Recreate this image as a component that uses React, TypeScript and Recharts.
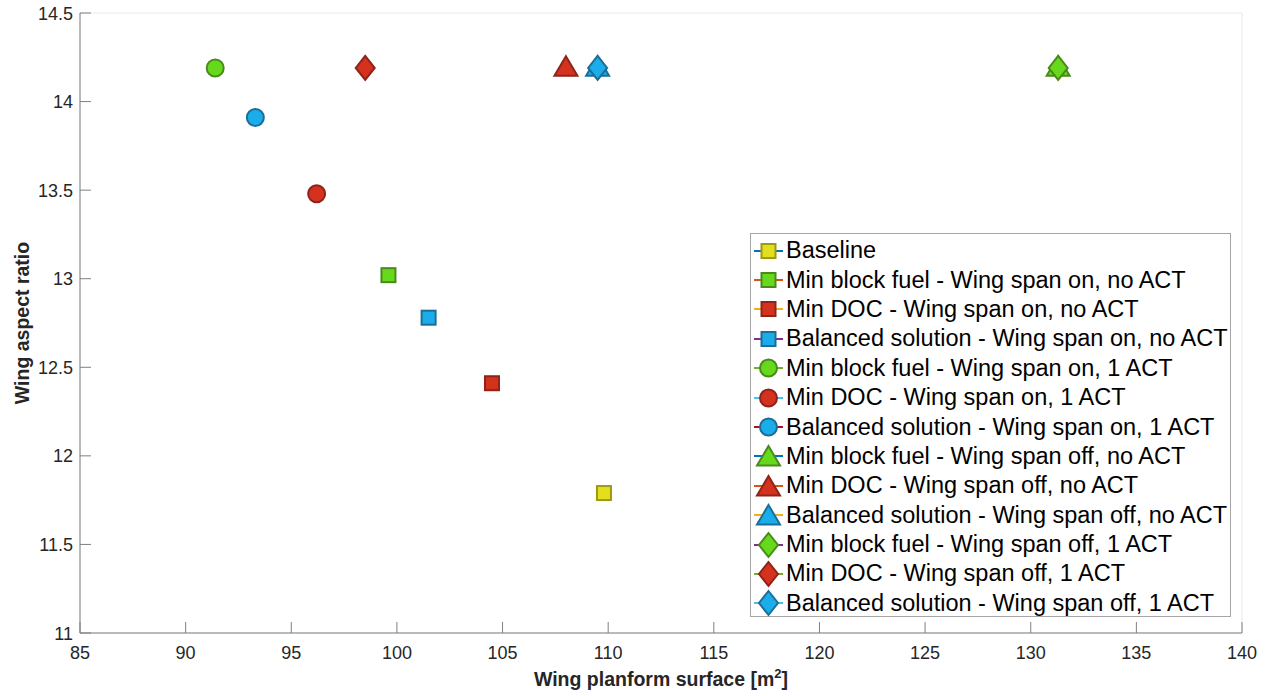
import { CartesianGrid, Label, Scatter, ScatterChart, XAxis, YAxis } from "recharts";

const seriesNames = [
  "Baseline",
  "Min block fuel - Wing span on, no ACT",
  "Min DOC - Wing span on, no ACT",
  "Balanced solution - Wing span on, no ACT",
  "Min block fuel - Wing span on, 1 ACT",
  "Min DOC - Wing span on, 1 ACT",
  "Balanced solution - Wing span on, 1 ACT",
  "Min block fuel - Wing span off, no ACT",
  "Min DOC - Wing span off, no ACT",
  "Balanced solution - Wing span off, no ACT",
  "Min block fuel - Wing span off, 1 ACT",
  "Min DOC - Wing span off, 1 ACT",
  "Balanced solution - Wing span off, 1 ACT",
];

// wing planform surface [m2]
const surfaceValues = [109.8, 99.6, 104.5, 101.5, 91.4, 96.2, 93.3, 131.3, 108.0, 109.5, 131.3, 98.5, 109.5];
// wing aspect ratio
const aspectValues = [11.79, 13.02, 12.41, 12.78, 14.19, 13.48, 13.91, 14.2, 14.2, 14.2, 14.19, 14.19, 14.19];

const markerKinds = [
  "square", "square", "square", "square",
  "circle", "circle", "circle",
  "triangle", "triangle", "triangle",
  "diamond", "diamond", "diamond",
];

const faceColors = [
  "#e3df1f", "#67d91c", "#d5311f", "#1badea",
  "#67d91c", "#d5311f", "#1badea",
  "#67d91c", "#d5311f", "#1badea",
  "#67d91c", "#d5311f", "#1badea",
];

const edgeColors = [
  "#9c9a12", "#4a8a1d", "#8e2418", "#1c6e96",
  "#4a8a1d", "#8e2418", "#1c6e96",
  "#4a8a1d", "#8e2418", "#1c6e96",
  "#4a8a1d", "#8e2418", "#1c6e96",
];

// legend line colours (matlab default colour order)
const lineColors = [
  "#0072BD", "#D95319", "#EDB120", "#7E2F8E", "#77AC30", "#4DBEEE", "#A2142F",
  "#0072BD", "#D95319", "#EDB120", "#7E2F8E", "#77AC30", "#4DBEEE",
];

const xTicks = [85, 90, 95, 100, 105, 110, 115, 120, 125, 130, 135, 140];
const yTicks = [11, 11.5, 12, 12.5, 13, 13.5, 14, 14.5];

const FONT = "'Liberation Sans', Arial, Helvetica, sans-serif";
const AXIS = "#808080";
const TEXT = "#262626";

function Marker({ kind, cx, cy, face, edge }: any) {
  if (cx == null || cy == null) return null;
  if (kind === "square") {
    return <rect x={cx - 7} y={cy - 7} width={14} height={14} fill={face} stroke={edge} strokeWidth={2} />;
  }
  if (kind === "circle") {
    return <circle cx={cx} cy={cy} r={8.5} fill={face} stroke={edge} strokeWidth={2} />;
  }
  if (kind === "triangle") {
    const pts = `${cx},${cy - 10} ${cx + 11.5},${cy + 9.5} ${cx - 11.5},${cy + 9.5}`;
    return <polygon points={pts} fill={face} stroke={edge} strokeWidth={2} strokeLinejoin="miter" />;
  }
  const pts = `${cx},${cy - 12} ${cx + 9.5},${cy} ${cx},${cy + 12} ${cx - 9.5},${cy}`;
  return <polygon points={pts} fill={face} stroke={edge} strokeWidth={2} />;
}

function BottomTick({ x, y, payload }: any) {
  return (
    <g>
      <line x1={x} y1={y} x2={x} y2={y - 11} stroke={AXIS} strokeWidth={1} />
      <text x={x} y={y + 26} textAnchor="middle" fill={TEXT} fontSize={18} fontFamily={FONT}>
        {payload.value}
      </text>
    </g>
  );
}

function TopTick({ x, y }: any) {
  return <line x1={x} y1={y} x2={x} y2={y + 11} stroke="#9a9a9a" strokeWidth={1} />;
}

function LeftTick({ x, y, payload }: any) {
  return (
    <g>
      <line x1={x} y1={y} x2={x + 11} y2={y} stroke={AXIS} strokeWidth={1} />
      <text x={x - 7} y={y + 6.5} textAnchor="end" fill={TEXT} fontSize={18} fontFamily={FONT}>
        {payload.value}
      </text>
    </g>
  );
}

function RightTick({ x, y }: any) {
  return <line x1={x} y1={y} x2={x - 11} y2={y} stroke="#6a6a6a" strokeWidth={1} />;
}

function XTitle({ viewBox }: any) {
  const cx = viewBox.x + viewBox.width / 2;
  return (
    <text x={cx} y={viewBox.y + 53} textAnchor="middle" fill={TEXT} fontSize={19.5} fontWeight="bold" fontFamily={FONT}>
      Wing planform surface [m
      <tspan dy={-8} fontSize={13}>2</tspan>
      <tspan dy={8}>]</tspan>
    </text>
  );
}

function YTitle({ viewBox }: any) {
  const cy = viewBox.y + viewBox.height / 2;
  return (
    <text
      x={22}
      y={cy}
      transform={`rotate(-90, 22, ${cy})`}
      textAnchor="middle"
      dominantBaseline="central"
      fill={TEXT}
      fontSize={19.5}
      fontWeight="bold"
      fontFamily={FONT}
    >
      Wing aspect ratio
    </text>
  );
}

function LegendIcon({ i }: { i: number }) {
  return (
    <svg width={34} height={28} style={{ display: "block", flex: "none" }}>
      <line x1={3} y1={14} x2={32} y2={14} stroke={lineColors[i]} strokeWidth={2} />
      <Marker kind={markerKinds[i]} cx={17.5} cy={14} face={faceColors[i]} edge={edgeColors[i]} />
    </svg>
  );
}

function ChartLegend() {
  return (
    <div
      style={{
        position: "absolute",
        left: 750,
        top: 233,
        width: 481,
        height: 384,
        border: "1px solid #a6a6a6",
        background: "#fff",
        boxSizing: "border-box",
        paddingTop: 2,
        fontFamily: FONT,
        fontSize: 23.5,
        color: "#000",
      }}
    >
      {seriesNames.map((name, i) => (
        <div key={name} style={{ display: "flex", alignItems: "center", height: 29.4, whiteSpace: "nowrap" }}>
          <LegendIcon i={i} />
          <span style={{ marginLeft: 1, lineHeight: "29px" }}>{name}</span>
        </div>
      ))}
    </div>
  );
}

export default function App() {
  return (
    <div style={{ position: "absolute", left: 0, top: 0, width: 1271, height: 696, background: "#fff" }}>
      <ScatterChart width={1271} height={696} margin={{ top: 13, right: 29, bottom: 0, left: 0 }}>
        <CartesianGrid stroke="#e8e8e8" strokeWidth={1} />
        <XAxis
          type="number"
          dataKey="x"
          xAxisId="b"
          domain={[85, 140]}
          ticks={xTicks}
          interval={0}
          allowDataOverflow
          height={63}
          tickSize={0}
          tickMargin={0}
          axisLine={{ stroke: AXIS }}
          tickLine={false}
          tick={<BottomTick />}
        >
          <Label content={<XTitle />} />
        </XAxis>
        <XAxis
          type="number"
          dataKey="x"
          xAxisId="t"
          orientation="top"
          domain={[85, 140]}
          ticks={xTicks}
          interval={0}
          allowDataOverflow
          height={0}
          tickSize={0}
          tickMargin={0}
          axisLine={{ stroke: "#c4c4c4" }}
          tickLine={false}
          tick={<TopTick />}
        />
        <YAxis
          type="number"
          dataKey="y"
          yAxisId="l"
          domain={[11, 14.5]}
          ticks={yTicks}
          interval={0}
          allowDataOverflow
          width={80}
          tickSize={0}
          tickMargin={0}
          axisLine={{ stroke: AXIS }}
          tickLine={false}
          tick={<LeftTick />}
        >
          <Label content={<YTitle />} />
        </YAxis>
        <YAxis
          type="number"
          dataKey="y"
          yAxisId="r"
          orientation="right"
          domain={[11, 14.5]}
          ticks={yTicks}
          interval={0}
          allowDataOverflow
          width={0}
          tickSize={0}
          tickMargin={0}
          axisLine={{ stroke: "#d6d6d6", strokeWidth: 1.5 }}
          tickLine={false}
          tick={<RightTick />}
        />
        {seriesNames.map((name, i) => (
          <Scatter
            key={name}
            name={name}
            xAxisId="b"
            yAxisId="l"
            data={[{ x: surfaceValues[i], y: aspectValues[i] }]}
            isAnimationActive={false}
            shape={(p: any) => (
              <Marker kind={markerKinds[i]} cx={p.cx} cy={p.cy} face={faceColors[i]} edge={edgeColors[i]} />
            )}
          />
        ))}
      </ScatterChart>
      <ChartLegend />
    </div>
  );
}
